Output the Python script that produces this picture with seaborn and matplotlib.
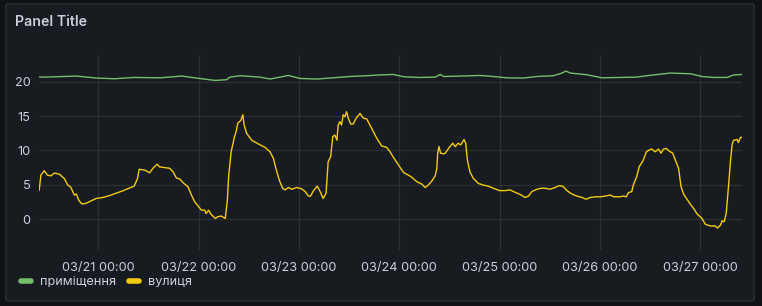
import numpy as np
import pandas as pd
import matplotlib
matplotlib.use("Agg")
import matplotlib.pyplot as plt
import matplotlib.dates as mdates
from matplotlib.lines import Line2D
from matplotlib.patches import FancyBboxPatch
import seaborn as sns

# ---- data (hours since 2024-03-20 00:00, value in °C) ----
outdoor_hours = [9.9, 10.3, 11.1, 11.9, 12.7, 13.5, 14.7, 15.9, 16.7, 17.5, 18.3, 18.8, 19.3, 20.1,
                 21.1, 22.3, 23.5, 25.1, 26.6, 28.2, 29.8, 31.4, 32.6, 33.4, 33.8, 35.1, 36.3, 37.1,
                 38.1, 38.7, 39.9, 41.1, 41.9, 42.7, 43.5, 44.3, 45.5, 46.3, 47.1, 47.9, 48.7, 49.5,
                 49.8, 50.4, 51.0, 52.0, 52.6, 53.4, 54.4, 54.9, 55.2, 55.8, 56.6, 57.0, 57.4, 58.1,
                 58.6, 58.9, 59.5, 60.7, 62.3, 63.9, 65.1, 65.9, 66.5, 67.3, 68.1, 68.7, 69.5, 70.3,
                 71.5, 72.7, 73.5, 74.3, 74.8, 75.5, 76.4, 77.1, 77.8, 78.5, 79.0, 79.6, 80.1, 80.6,
                 81.1, 81.4, 81.8, 82.2, 82.6, 83.0, 83.4, 83.8, 84.4, 85.0, 85.7, 86.6, 87.4, 88.2,
                 89.0, 89.8, 90.6, 91.8, 93.0, 93.8, 94.6, 95.8, 97.0, 98.2, 99.0, 100.2, 101.4, 102.2,
                 103.0, 103.8, 104.6, 105.0, 105.2, 105.5, 105.9, 106.6, 107.0, 107.8, 108.8, 109.4,
                 110.1, 110.7, 111.5, 111.9, 112.3, 112.9, 113.7, 114.9, 116.1, 117.3, 118.5, 120.0,
                 121.3, 122.5, 123.7, 124.9, 126.1, 126.9, 127.7, 128.9, 130.1, 130.9, 132.1, 133.3,
                 134.1, 135.1, 136.1, 137.3, 138.5, 139.7, 140.7, 141.7, 142.9, 144.1, 145.3, 146.4,
                 147.4, 148.8, 149.6, 150.3, 150.8, 151.6, 152.0, 152.8, 153.4, 154.3, 155.1, 155.9,
                 156.4, 157.2, 158.0, 158.6, 159.2, 159.8, 160.8, 161.4, 162.2, 162.8, 163.4, 164.0,
                 164.8, 165.6, 166.4, 167.3, 168.4, 169.2, 170.4, 171.6, 172.1, 172.8, 173.2, 173.7,
                 174.2, 174.8, 175.2, 175.6, 175.9, 176.8, 177.1, 177.6, 177.9]
outdoor_temp = [4.2, 6.4, 7.05, 6.4, 6.3, 6.7, 6.55, 5.9, 5.0, 4.6, 3.5, 3.65, 2.8, 2.2,
                2.3, 2.65, 3.0, 3.15, 3.4, 3.75, 4.1, 4.5, 4.8, 5.9, 7.25, 7.15, 6.75, 7.4,
                8.0, 7.6, 7.5, 7.4, 6.9, 6.0, 5.85, 5.3, 4.7, 3.5, 2.5, 1.9, 1.3, 1.3,
                0.8, 1.3, 0.7, 0.1, 0.35, 0.45, 0.1, 2.8, 6.2, 9.8, 12.0, 12.75, 14.0, 14.35,
                15.2, 13.7, 12.5, 11.5, 10.95, 10.45, 9.8, 8.85, 7.4, 5.7, 4.5, 4.25, 4.6, 4.35,
                4.6, 4.4, 4.0, 3.35, 3.35, 4.15, 4.8, 4.0, 3.0, 3.75, 8.35, 9.1, 12.0, 12.25,
                11.5, 13.7, 14.2, 13.7, 15.2, 14.9, 15.65, 14.7, 13.85, 13.85, 14.7, 15.4, 14.7, 14.6,
                13.7, 12.75, 11.8, 10.65, 10.45, 9.8, 9.0, 7.9, 6.8, 6.4, 6.1, 5.45, 5.1, 4.6,
                5.0, 5.55, 6.3, 7.4, 9.6, 10.55, 9.6, 9.5, 9.6, 10.3, 11.05, 10.55,
                11.05, 10.8, 11.6, 11.05, 8.6, 6.9, 5.95, 5.2, 4.95, 4.8, 4.5, 4.15,
                4.15, 4.25, 3.9, 3.6, 3.15, 3.35, 4.0, 4.35, 4.5, 4.5, 4.35, 4.6,
                4.85, 4.8, 4.15, 3.65, 3.35, 3.15, 2.9, 3.15, 3.25, 3.25, 3.35, 3.5,
                3.25, 3.25, 3.35, 3.25, 3.85, 4.0, 5.0, 6.2, 7.65, 8.5, 9.8, 10.1,
                10.2, 9.8, 10.2, 9.6, 10.2, 10.3, 9.8, 9.6, 8.35, 7.4, 4.7, 3.65,
                2.9, 2.2, 1.55, 0.7, 0.1, -0.75, -1.0, -1.0, -1.3, -0.9, -0.25, -0.4,
                0.85, 5.2, 8.35, 10.8, 11.45, 11.6, 11.15, 11.9, 11.9]

indoor_hours = [9.9, 11.3, 18.8, 23.6, 28.0, 32.4, 38.8, 44.0, 48.3, 51.9, 54.7, 55.5, 57.9,
                62.7, 65.1, 69.5, 72.3, 76.3, 80.2, 84.2, 88.2, 91.4, 94.6, 97.0, 101.0,
                104.6, 105.8, 106.6, 110.6, 115.3, 118.5, 121.7, 125.7, 128.9, 132.9, 134.9,
                135.9, 136.9, 140.9, 144.5, 148.8, 152.8, 155.2, 160.8, 165.6, 168.4, 171.2,
                174.4, 175.9, 178.0]
indoor_temp = [20.7, 20.68, 20.83, 20.54, 20.44, 20.63, 20.58, 20.83, 20.48, 20.2, 20.3, 20.68, 20.88,
               20.68, 20.4, 20.92, 20.48, 20.4, 20.58, 20.77, 20.88, 21.0, 21.07, 20.73, 20.63,
               20.68, 21.07, 20.77, 20.83, 20.92, 20.77, 20.58, 20.54, 20.77, 20.88, 21.27,
               21.56, 21.27, 21.02, 20.58, 20.63, 20.68, 20.88, 21.27, 21.17, 20.77, 20.63,
               20.63, 20.98, 21.07]

series_names = ["приміщення", "вулиця"]
series_colors = ["#73BF69", "#F2CC0C"]
y_ticks = [0, 5, 10, 15, 20]
base = pd.Timestamp("2024-03-20 00:00")

df = pd.concat([
    pd.DataFrame({"time": base + pd.to_timedelta(indoor_hours, unit="h"),
                  "value": indoor_temp, "series": series_names[0]}),
    pd.DataFrame({"time": base + pd.to_timedelta(outdoor_hours, unit="h"),
                  "value": outdoor_temp, "series": series_names[1]}),
], ignore_index=True)

# ---- style ----
sns.set_theme(style="dark")
plt.rcParams["font.family"] = ["Inter", "DejaVu Sans"]
TEXT = "#ccccdc"
W, H = 762, 306
fig = plt.figure(figsize=(W / 100, H / 100), dpi=100, facecolor="#111217")

panel = FancyBboxPatch((6 / W, 5 / H), 748 / W, 297 / H,
                       boxstyle="round,pad=0,rounding_size=0.004",
                       transform=fig.transFigure, facecolor="#181b1f",
                       edgecolor="#2b2e34", linewidth=1.0, zorder=-5)
fig.patches.append(panel)

ax = fig.add_axes([39 / W, 1 - 250 / H, (741.7 - 39) / W, (250 - 55) / H])
ax.set_facecolor("none")
ax.set_zorder(2)

sns.lineplot(data=df, x="time", y="value", hue="series", palette=series_colors,
             hue_order=series_names, linewidth=1.0, legend=False, ax=ax,
             estimator=None, sort=True)

ax.set_xlim(base + pd.Timedelta(hours=9.85), base + pd.Timedelta(hours=177.9))
ax.set_ylim(-4.5, 23.9)
ax.set_yticks(y_ticks)
ax.xaxis.set_major_locator(mdates.DayLocator())
ax.xaxis.set_major_formatter(mdates.DateFormatter("%m/%d %H:%M"))
ax.grid(True, color="#2c2e33", linewidth=1.0)
for s in ax.spines.values():
    s.set_visible(False)
ax.tick_params(axis="both", length=0, colors=TEXT, labelsize=9.2)
ax.tick_params(axis="x", pad=9)
ax.tick_params(axis="y", pad=6)
ax.set_xlabel("")
ax.set_ylabel("")

fig.text(15 / W, 1 - 22.5 / H, "Panel Title", color=TEXT, fontsize=10.2,
         fontweight="semibold", va="center", ha="left")

handles = [Line2D([0], [0], color=c, lw=4, solid_capstyle="round") for c in series_colors]
fig.legend(handles, series_names, loc="center left",
           bbox_to_anchor=(16 / W, 1 - 282 / H), ncol=2, frameon=False,
           fontsize=9.2, labelcolor=TEXT, handlelength=0.75, handletextpad=0.7,
           columnspacing=1.05, borderaxespad=0)

fig.savefig("out.png", dpi=100, facecolor=fig.get_facecolor())
